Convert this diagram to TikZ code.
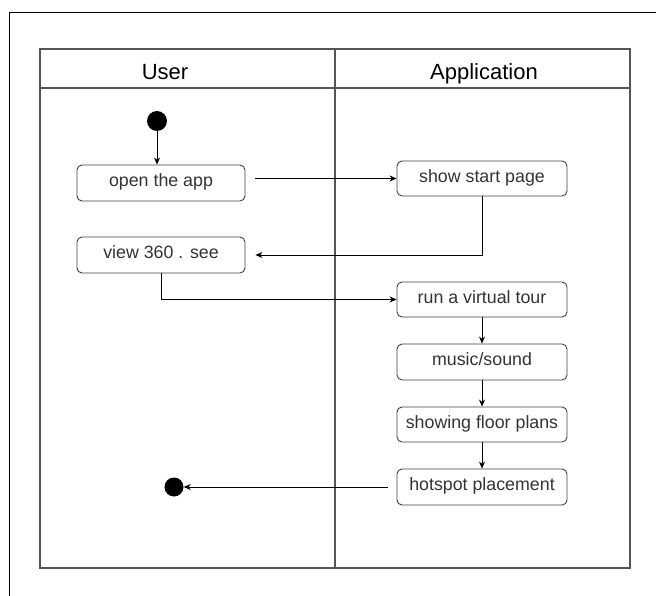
\documentclass[tikz,border=0pt]{standalone}
\usepackage{fontspec}
\setmainfont{Liberation Sans}
\usetikzlibrary{arrows.meta,calc}
\definecolor{txt}{HTML}{333333}
\definecolor{lanec}{HTML}{555555}
\begin{document}
\begin{tikzpicture}[x=1pt,y=-1pt,
  act/.style={draw=black!75, rounded corners=5pt, minimum height=36pt, inner sep=0pt,
    text=txt, line width=0.9pt, font=\fontsize{17.8}{20}\selectfont,
    text height=12.4pt, text depth=5pt},
  arr/.style={draw=black, line width=0.8pt, -{Stealth[length=7pt,width=6pt]}},
  lane/.style={draw=lanec, line width=1.1pt},
  hdr/.style={anchor=base, font=\fontsize{22}{26}\selectfont, text=black, inner sep=0pt},
  dot/.style={circle, fill=black, inner sep=0pt}]
\useasboundingbox (0,0) rectangle (656,596);
% outer frame
\draw[line width=1pt] (656,13) -- (9,13) -- (9,596);
% swimlanes
\draw[lane] (40,49) rectangle (630,568);
\draw[lane] (40,88) -- (630,88);
\draw[lane] (335,49) -- (335,568);
\node[hdr] (huser) at (165,79.5) {User};
\node[hdr] (happ) at (484,79.5) {Application};
% nodes
\node[dot, minimum size=20pt] (start) at (157,121) {};
\node[act, minimum width=168pt] (open) at (161,183) {open the app};
\node[act, minimum width=168pt] (view) at (161,255) {view 360 . see};
\node[act, minimum width=170pt, minimum height=35pt] (show) at (482,178.5) {show start page};
\node[act, minimum width=170pt, minimum height=35pt] (tour) at (482,299.5) {run a virtual tour};
\node[act, minimum width=170pt, minimum height=36pt] (music) at (482,362) {music/sound};
\node[act, minimum width=170pt, minimum height=35pt] (floor) at (482,424.5) {showing floor plans};
\node[act, minimum width=170pt, minimum height=36pt] (hot) at (482,487) {hotspot placement};
\node[dot, minimum size=19pt] (end) at (174,487) {};
% connectors
\draw[arr] (start.south) -- (start.south |- open.north);
\draw[arr] ([xshift=10pt]open.east |- show.west) -- (show.west);
\draw[arr] (show.south) |- ([xshift=10pt]view.east);
\draw[arr] (view.south) |- (tour.west);
\draw[arr] (tour.south) -- (music.north);
\draw[arr] (music.south) -- (floor.north);
\draw[arr] (floor.south) -- (hot.north);
\draw[arr] ([xshift=-9pt]hot.west) -- (end.east);
\end{tikzpicture}
\end{document}
